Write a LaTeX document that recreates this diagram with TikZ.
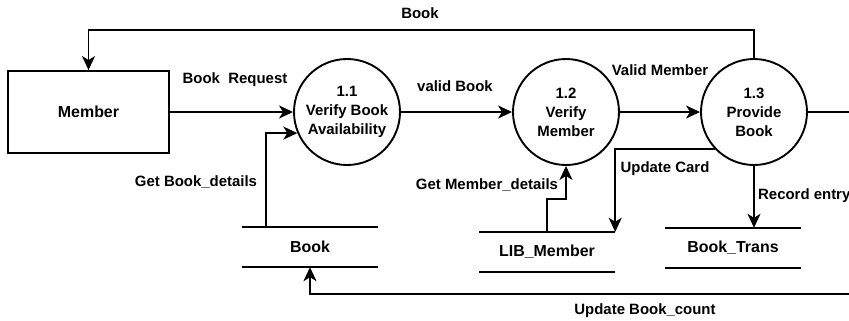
\documentclass[tikz,border=0pt]{standalone}
\usepackage{fontspec}
\setmainfont{Liberation Sans}
\usetikzlibrary{arrows.meta}

\tikzset{
  proc/.style={draw, circle, line width=1.9bp, minimum size=106bp, inner sep=0pt, align=center},
  ent/.style={draw, rectangle, line width=1.9bp, minimum width=161bp, minimum height=82bp, font=\fontsize{16}{19}\selectfont\bfseries},
  store/.style={minimum width=136bp, minimum height=40bp, inner sep=0pt, font=\fontsize{16}{19}\selectfont\bfseries},
  storeline/.style={line width=1.9bp},
  flow/.style={line width=1.9bp, -{Stealth[length=14bp,width=13bp,inset=4bp]}},
  plain/.style={line width=1.9bp},
  lbl/.style={inner sep=1bp},
}

\begin{document}
\begin{tikzpicture}[x=1bp, y=-1bp, font=\fontsize{15}{19}\selectfont\bfseries]
\useasboundingbox (0,0) rectangle (849,320);

\node[ent] (mem) at (88.5,112) {Member};
\node[proc] (c11) at (347,112) {1.1\\Verify Book\\Availability};
\node[proc] (c12) at (566,112) {1.2\\Verify\\Member};
\node[proc] (c13) at (754,112) {1.3\\Provide\\Book};

\node[store] (bk) at (310,247) {Book};
\node[store] (lm) at (547,252) {LIB\_Member};
\node[store] (bt) at (733,248) {Book\_Trans};

\coordinate (top) at (0,30);
\coordinate (outR) at (849,112);
\coordinate (outB) at (849,294);
\coordinate (gbk) at (266,227);
\coordinate (gmd) at (547,199);

\node[lbl] (l-req) at (235,80) {Book\ \ Request};
\node[lbl] (l-vb) at (455,86) {valid Book};
\node[lbl] (l-vm) at (660,70) {Valid Member};
\node[lbl] (l-bk) at (420,13) {Book};
\node[lbl] (l-gbd) at (196,182) {Get Book\_details};
\node[lbl] (l-gmd) at (487,185) {Get Member\_details};
\node[lbl] (l-uc) at (665,169) {Update Card};
\node[lbl, anchor=west] (l-re) at (757,196) {Record entry};
\node[lbl] (l-ubc) at (645,311) {Update Book\_count};

% data stores
\draw[storeline] (bk.north west) -- (bk.north east) (bk.south west) -- (bk.south east);
\draw[storeline] (lm.north west) -- (lm.north east) (lm.south west) -- (lm.south east);
\draw[storeline] (bt.north west) -- (bt.north east) (bt.south west) -- (bt.south east);

% flows
\draw[flow] (mem) -- (c11);
\draw[flow] (c11) -- (c12);
\draw[flow] (c12) -- (c13);
\draw[plain] (c13) -- (outR);
\draw[flow] (c13.north) |- (top -| mem) -- (mem.north);
\draw[flow] (gbk) |- (c11.203);
\draw[flow] (outB) -| (bk.south);
\draw[flow] (lm.north) -- (gmd) -| (c12.south);
\draw[flow] (c13.223) -| (lm.north east);
\draw[flow] (c13.south) -- (c13.south |- bt.north);
\end{tikzpicture}
\end{document}
